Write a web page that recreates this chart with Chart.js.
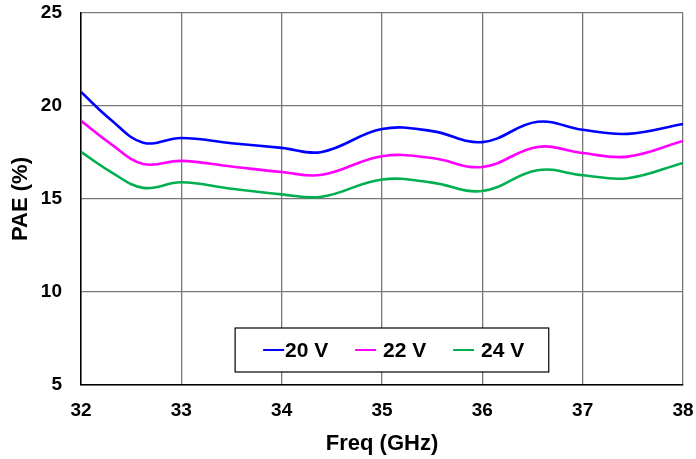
<!DOCTYPE html>
<html>
<head>
<meta charset="utf-8">
<script src="https://cdn.jsdelivr.net/npm/chart.js@4.4.1/dist/chart.umd.min.js"></script>
<style>
  html, body { margin: 0; padding: 0; background: #fff; }
  #wrap { width: 696px; height: 459px; }
</style>
</head>
<body>
<div id="wrap"><canvas id="chart" width="696" height="459"></canvas></div>
<script>
// frequencies (GHz) and PAE (%)
const freq = [32, 32.3, 32.62, 33, 33.5, 34, 34.4, 35, 35.5, 36, 36.55, 37, 37.45, 38];
const pae20 = [20.75, 19.25, 18.03, 18.28, 18.0, 17.75, 17.53, 18.76, 18.65, 18.06, 19.15, 18.72, 18.5, 19.03];
const pae22 = [19.2, 17.95, 16.88, 17.05, 16.75, 16.45, 16.3, 17.3, 17.2, 16.72, 17.8, 17.47, 17.28, 18.12];
const pae24 = [17.53, 16.45, 15.6, 15.9, 15.55, 15.25, 15.12, 16.05, 15.88, 15.43, 16.55, 16.28, 16.12, 16.94];
const seriesLabels = ['20 V', '22 V', '24 V'];
const seriesColors = ['#0000FF', '#FF00FF', '#00B050'];
const xTicks = [32, 33, 34, 35, 36, 37, 38];
const yTicks = [5, 10, 15, 20, 25];

const FONT = 'Arial, "Liberation Sans", sans-serif';

function pts(ys) { return freq.map((f, i) => ({ x: f, y: ys[i] })); }

// legend box drawn inside the plot area, near the bottom
const boxLegend = {
  id: 'boxLegend',
  afterDatasetsDraw(chart) {
    const { ctx, chartArea: a } = chart;
    const x0 = a.left + (a.right - a.left) * 0.256;
    const x1 = a.left + (a.right - a.left) * 0.777;
    const y0 = a.bottom - 57, y1 = a.bottom - 13;
    ctx.save();
    ctx.fillStyle = '#fff';
    ctx.fillRect(x0, y0, x1 - x0, y1 - y0);
    ctx.strokeStyle = '#000';
    ctx.lineWidth = 1.2;
    ctx.strokeRect(x0, y0, x1 - x0, y1 - y0);
    const cy = (y0 + y1) / 2;
    const starts = [28, 120, 218];
    ctx.font = 'bold 21px ' + FONT;
    ctx.textBaseline = 'middle';
    chart.data.datasets.forEach((ds, i) => {
      const sx = x0 + starts[i];
      ctx.strokeStyle = ds.borderColor;
      ctx.lineWidth = 2;
      ctx.beginPath(); ctx.moveTo(sx, cy); ctx.lineTo(sx + 21, cy); ctx.stroke();
      ctx.fillStyle = '#000';
      ctx.fillText(ds.label, sx + (i === 0 ? 22 : 28), cy + 1);
    });
    ctx.restore();
  }
};

new Chart(document.getElementById('chart'), {
  type: 'line',
  data: {
    datasets: [pae20, pae22, pae24].map((d, i) => ({
      label: seriesLabels[i],
      data: pts(d),
      borderColor: seriesColors[i],
      backgroundColor: seriesColors[i],
      borderWidth: 2.6,
      pointRadius: 0,
      tension: 0.4
    }))
  },
  options: {
    responsive: false,
    animation: false,
    layout: { padding: { top: 13, right: 13, left: 0, bottom: 0 } },
    plugins: { legend: { display: false }, tooltip: { enabled: false } },
    scales: {
      x: {
        type: 'linear', min: 32, max: 38,
        afterBuildTicks: s => { s.ticks = xTicks.map(v => ({ value: v })); },
        afterFit: s => { s.height = 74; s.paddingLeft = 0; s.paddingRight = 0; },
        grid: { color: '#777', lineWidth: 1.3, drawTicks: false },
        border: { color: '#000', width: 1.5 },
        ticks: { padding: 14, color: '#000', font: { family: FONT, size: 19, weight: 'bold' } },
        title: { display: true, text: 'Freq (GHz)', color: '#000', padding: { top: 0, bottom: 2 },
          font: { family: FONT, size: 22, weight: 'bold' } }
      },
      y: {
        min: 5, max: 25,
        afterBuildTicks: s => { s.ticks = yTicks.map(v => ({ value: v })); },
        afterFit: s => { s.width = 81; s.paddingTop = 0; s.paddingBottom = 0; },
        grid: { color: '#777', lineWidth: 1.3, drawTicks: false },
        border: { color: '#000', width: 1.5 },
        ticks: { padding: 19, color: '#000', font: { family: FONT, size: 19, weight: 'bold' } },
        title: { display: true, text: 'PAE (%)', color: '#000', padding: { top: 8, bottom: 0 },
          font: { family: FONT, size: 22, weight: 'bold' } }
      }
    }
  },
  plugins: [boxLegend]
});
</script>
</body>
</html>
